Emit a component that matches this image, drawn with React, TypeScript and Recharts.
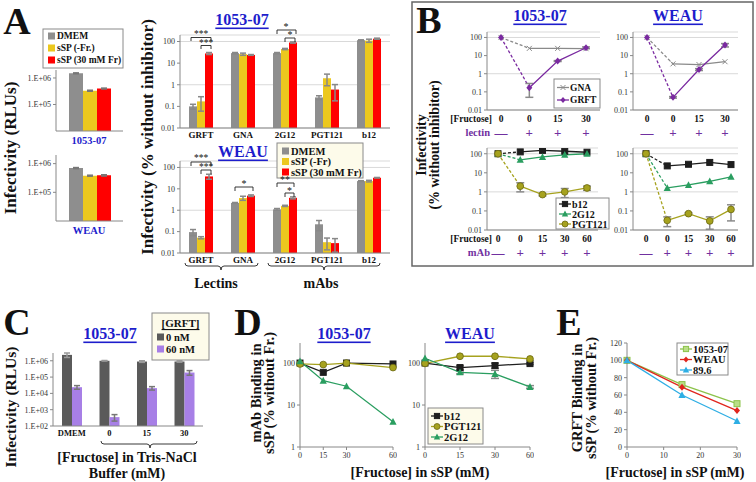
import React from 'react';
import { BarChart, Bar, LineChart, Line, XAxis, YAxis, CartesianGrid, ErrorBar } from 'recharts';

const FONT = "'Liberation Serif', 'Times New Roman', serif";
const BLUE = '#1d1dcc';
const PURPLE = '#7030a0';
const GRAY = '#8e8e8e';
const YELLOW = '#ecc81e';
const RED = '#ff0000';

// Panel A – raw infectivity (RLUs)
const rluSeries = ['DMEM', 'sSP (-Fr.)', 'sSP (30 mM Fr)'];
const rlu1053 = [1.5e6, 3.3e5, 4.0e5];
const rlu1053Err = [6e4, 1.5e4, 1.5e4];
const rluWeau = [7.0e5, 3.8e5, 3.9e5];
const rluWeauErr = [3e4, 1.5e4, 2e4];

// Panel A – % infectivity with inhibitors
const inhibitors = ['GRFT', 'GNA', '2G12', 'PGT121', 'b12'];
const pct1053Dmem = [0.1, 29, 29, 0.26, 115];
const pct1053DmemErr = [0.025, 2, 2, 0.05, 5];
const pct1053Ssp = [0.17, 26, 45, 2.0, 110];
const pct1053SspErr = [0.11, 3, 3, 1.1, 18];
const pct1053Fr = [28, 24, 90, 0.6, 135];
const pct1053FrErr = [3, 1, 6, 0.42, 8];
const pctWeauDmem = [0.095, 2.2, 1.1, 0.22, 23];
const pctWeauDmemErr = [0.03, 0.1, 0.1, 0.11, 1];
const pctWeauSsp = [0.052, 3.7, 1.6, 0.032, 23];
const pctWeauSspErr = [0.006, 0.8, 0.1, 0.018, 2];
const pctWeauFr = [38, 4.8, 3.8, 0.029, 33];
const pctWeauFrErr = [10, 0.4, 0.4, 0.018, 1];

// Panel B – fructose reversal
const lectinFructose = ['0', '0', '15', '30'];
const lectinSign = ['—', '+', '+', '+'];
const gna1053 = [100, 25, 25, 24];
const grft1053 = [100, 0.17, 5, 27];
const grft1053Err = [0, 0.12, 0.3, 3];
const gnaWeau = [100, 3.5, 3.2, 4.6];
const grftWeau = [100, 0.05, 1.7, 38];
const grftWeauErr = [0, 0.005, 0.2, 8];
const mabFructose = ['0', '0', '15', '30', '60'];
const mabSign = ['—', '+', '+', '+', '+'];
const b12Mab1053 = [100, 125, 150, 135, 120];
const g2Mab1053 = [100, 48, 68, 88, 100];
const pgtMab1053 = [100, 2.0, 0.72, 1.0, 1.6];
const pgtMab1053Err = [0, 1.0, 0.1, 0.5, 0.4];
const b12MabWeau = [100, 23, 28, 35, 27];
const g2MabWeau = [100, 1.6, 2.3, 3.6, 6.2];
const pgtMabWeau = [100, 0.032, 0.072, 0.03, 0.12];
const pgtMabWeauErr = [0, 0.017, 0.008, 0.019, 0.09];

// Panel C
const cGroups = ['DMEM', '0', '15', '30'];
const c0nM = [2.3e6, 1.0e6, 9.0e5, 9.0e5];
const c0nMErr = [7e5, 4e4, 1e5, 8e4];
const c60nM = [2.4e4, 350, 2.1e4, 1.9e5];
const c60nMErr = [6e3, 150, 5e3, 6e4];

// Panel D – mAb binding
const dFructose = [0, 15, 30, 60];
const dB12_1053 = [100, 60, 100, 95];
const dPgt_1053 = [95, 92, 100, 78];
const dG2_1053 = [110, 38, 28, 4];
const dB12_Weau = [100, 78, 87, 97];
const dB12_WeauErr = [0, 8, 12, 5];
const dPgt_Weau = [98, 145, 145, 125];
const dG2_Weau = [130, 60, 55, 27];
const dG2_WeauErr = [0, 5, 12, 2];

// Panel E – GRFT binding
const eFructose = [0, 15, 30];
const e1053 = [100, 72, 50];
const eWeau = [100, 69, 42];
const e896 = [100, 60, 30];

const C_B12 = '#1e1e1e';
const C_G2 = '#2a9e60';
const C_PGT = '#a6a21e';
const C_GNA = '#8a8a8a';
const C_GRFT = '#7a2aa0';
const C_C0 = '#5a5a5a';
const C_C60 = '#a77fe6';
const C_E1053 = '#8cc34a';
const C_EWEAU = '#e0251d';
const C_E896 = '#2eaee4';

type Rect = { l: number; t: number; r: number; b: number };

function frame(p: Rect, yW: number, xH: number, mt = 4, mr = 4) {
  return {
    style: { position: 'absolute', left: p.l - yW, top: p.t - mt } as React.CSSProperties,
    width: p.r - p.l + yW + mr,
    height: p.b - p.t + mt + xH,
    margin: { top: mt, right: mr, bottom: 0, left: 0 },
  };
}

const sci = (v: number) => `1.E+${String(Math.round(Math.log10(v))).padStart(2, '0')}`;
const tickFont = { fontSize: 8, fill: '#333', fontFamily: FONT };

function drawMarker(shape: string, cx: number, cy: number, color: string, key?: any, fill?: string, s = 3) {
  const f = fill || color;
  switch (shape) {
    case 'square':
      return <rect key={key} x={cx - s} y={cy - s} width={2 * s} height={2 * s} fill={f} stroke={color} strokeWidth={1} />;
    case 'triangle':
      return <polygon key={key} points={`${cx},${cy - s - 0.8} ${cx + s + 0.6},${cy + s} ${cx - s - 0.6},${cy + s}`} fill={f} />;
    case 'circle':
      return <circle key={key} cx={cx} cy={cy} r={s + 0.4} fill={f} stroke="#6b6812" strokeWidth={0.8} />;
    case 'diamond':
      return <polygon key={key} points={`${cx},${cy - s - 0.5} ${cx + s},${cy} ${cx},${cy + s + 0.5} ${cx - s},${cy}`} fill={f} />;
    case 'cross':
      return (
        <path key={key} d={`M${cx - 2.5},${cy - 2.5}L${cx + 2.5},${cy + 2.5}M${cx + 2.5},${cy - 2.5}L${cx - 2.5},${cy + 2.5}`} stroke={color} strokeWidth={1} />
      );
    default:
      return <circle key={key} cx={cx} cy={cy} r={s} fill={f} />;
  }
}

const dotFn = (shape: string, color: string, only?: number, fill?: string) => (p: any) => {
  const { cx, cy, index, value } = p;
  if (value == null || cx == null || cy == null || Number.isNaN(cy) || (only != null && index !== only)) {
    return <g key={`d${index}`} />;
  }
  return drawMarker(shape, cx, cy, color, `d${index}`, fill);
};

function RluChart({ plot, values, err }: { plot: Rect; values: number[]; err: number[] }) {
  const f = frame(plot, 40, 1);
  const data = [{ name: 'x', dmem: values[0], dmemErr: err[0], ssp: values[1], sspErr: err[1], fr: values[2], frErr: err[2] }];
  return (
    <div style={f.style}>
      <BarChart width={f.width} height={f.height} margin={f.margin} data={data} barSize={14} barGap={0}>
        <XAxis dataKey="name" tick={false} height={1} stroke="#888" tickLine={false} />
        <YAxis
          scale="log"
          domain={[1e4, 2e6]}
          ticks={[1e4, 1e5, 1e6]}
          allowDataOverflow
          width={40}
          stroke="#888"
          tickSize={3}
          tickMargin={2}
          tickFormatter={sci}
          tick={tickFont}
        />
        <Bar dataKey="dmem" fill={GRAY} isAnimationActive={false}>
          <ErrorBar dataKey="dmemErr" width={3} stroke="#777" />
        </Bar>
        <Bar dataKey="ssp" fill={YELLOW} isAnimationActive={false}>
          <ErrorBar dataKey="sspErr" width={3} stroke="#777" />
        </Bar>
        <Bar dataKey="fr" fill={RED} isAnimationActive={false}>
          <ErrorBar dataKey="frErr" width={3} stroke="#777" />
        </Bar>
      </BarChart>
    </div>
  );
}

function PctChart(props: {
  plot: Rect;
  dmem: number[];
  dmemErr: number[];
  ssp: number[];
  sspErr: number[];
  fr: number[];
  frErr: number[];
}) {
  const { plot } = props;
  const f = frame(plot, 28, 16);
  const data = inhibitors.map((name, i) => ({
    name,
    dmem: props.dmem[i],
    dmemErr: props.dmemErr[i],
    ssp: props.ssp[i],
    sspErr: props.sspErr[i],
    fr: props.fr[i],
    frErr: props.frErr[i],
  }));
  return (
    <div style={f.style}>
      <BarChart width={f.width} height={f.height} margin={f.margin} data={data} barSize={8} barGap={0}>
        <CartesianGrid vertical={false} stroke="#d9d9d9" />
        <XAxis
          dataKey="name"
          stroke="#888"
          tickLine={false}
          tickSize={0}
          tickMargin={4}
          interval={0}
          height={16}
          tick={{ fontSize: 9, fontWeight: 'bold', fill: '#111', fontFamily: FONT }}
        />
        <YAxis
          scale="log"
          domain={[0.01, 200]}
          ticks={[0.01, 0.1, 1, 10, 100]}
          allowDataOverflow
          width={28}
          stroke="#888"
          tickSize={3}
          tickMargin={2}
          tick={tickFont}
        />
        <Bar dataKey="dmem" fill={GRAY} isAnimationActive={false}>
          <ErrorBar dataKey="dmemErr" width={3} stroke="#888" />
        </Bar>
        <Bar dataKey="ssp" fill={YELLOW} isAnimationActive={false}>
          <ErrorBar dataKey="sspErr" width={3} stroke="#888" />
        </Bar>
        <Bar dataKey="fr" fill={RED} isAnimationActive={false}>
          <ErrorBar dataKey="frErr" width={3} stroke="#888" />
        </Bar>
      </BarChart>
    </div>
  );
}

type Series = { key: string; values: number[]; err?: number[]; color: string; shape: string; fill?: string };

function SignTick(p: any) {
  const { x, y, index, cats, signs } = p;
  return (
    <g>
      <text x={x} y={y + 8.5} textAnchor="middle" dominantBaseline="central" fontSize={9.5} fontWeight="bold" fill="#111" fontFamily={FONT}>
        {cats[index]}
      </text>
      <text x={x} y={y + 22} textAnchor="middle" dominantBaseline="central" fontSize={13} fontWeight="bold" fill={PURPLE} fontFamily={FONT}>
        {signs[index]}
      </text>
    </g>
  );
}

function DoseChart({ plot, cats, signs, series, padL, padR }: { plot: Rect; cats: string[]; signs: string[]; series: Series[]; padL: number; padR: number }) {
  const f = frame(plot, 26, 30);
  const data = cats.map((c, i) => {
    const row: any = { i };
    series.forEach((s) => {
      row[s.key + 'Lead'] = i <= 1 ? s.values[i] : null;
      row[s.key] = i >= 1 ? s.values[i] : null;
      row[s.key + 'Err'] = s.err ? s.err[i] : 0;
    });
    return row;
  });
  return (
    <div style={f.style}>
      <LineChart width={f.width} height={f.height} margin={f.margin} data={data}>
        <CartesianGrid vertical={false} stroke="#d9d9d9" />
        <XAxis
          dataKey="i"
          type="category"
          padding={{ left: padL, right: padR }}
          stroke="#888"
          tickLine={false}
          tickSize={0}
          tickMargin={0}
          interval={0}
          height={30}
          tick={(p: any) => <SignTick {...p} cats={cats} signs={signs} />}
        />
        <YAxis
          scale="log"
          domain={[0.01, 200]}
          ticks={[0.01, 0.1, 1, 10, 100]}
          allowDataOverflow
          width={26}
          stroke="#888"
          tickSize={3}
          tickMargin={2}
          tick={tickFont}
        />
        {series.map((s) => (
          <Line
            key={s.key + 'Lead'}
            dataKey={s.key + 'Lead'}
            stroke={s.color}
            strokeWidth={1.3}
            strokeDasharray="3 2"
            dot={dotFn(s.shape, s.color, 0, s.fill)}
            isAnimationActive={false}
          />
        ))}
        {series.map((s) => (
          <Line key={s.key} dataKey={s.key} stroke={s.color} strokeWidth={1.3} dot={dotFn(s.shape, s.color, undefined, s.fill)} isAnimationActive={false}>
            {s.err ? <ErrorBar dataKey={s.key + 'Err'} width={4} stroke="#8a8a8a" /> : null}
          </Line>
        ))}
      </LineChart>
    </div>
  );
}

function PlainLineChart({
  plot,
  xs,
  series,
  xAxis,
  yAxis,
}: {
  plot: Rect;
  xs: number[];
  series: Series[];
  xAxis: any;
  yAxis: any;
}) {
  const f = frame(plot, 22, 14);
  const data = xs.map((x, i) => {
    const row: any = { x };
    series.forEach((s) => {
      row[s.key] = s.values[i];
      row[s.key + 'Err'] = s.err ? s.err[i] : 0;
    });
    return row;
  });
  return (
    <div style={f.style}>
      <LineChart width={f.width} height={f.height} margin={f.margin} data={data}>
        <XAxis dataKey="x" stroke="#888" tickSize={3} tickMargin={2} height={14} interval={0} tick={tickFont} {...xAxis} />
        <YAxis width={22} stroke="#888" tickSize={3} tickMargin={2} tick={tickFont} {...yAxis} />
        {series.map((s) => (
          <Line key={s.key} dataKey={s.key} stroke={s.color} strokeWidth={1.3} dot={dotFn(s.shape, s.color, undefined, s.fill)} isAnimationActive={false}>
            {s.err ? <ErrorBar dataKey={s.key + 'Err'} width={4} stroke="#8a8a8a" /> : null}
          </Line>
        ))}
      </LineChart>
    </div>
  );
}

function CChart({ plot }: { plot: Rect }) {
  const f = frame(plot, 40, 14);
  const data = cGroups.map((name, i) => ({ name, a: c0nM[i], aErr: c0nMErr[i], b: c60nM[i], bErr: c60nMErr[i] }));
  return (
    <div style={f.style}>
      <BarChart width={f.width} height={f.height} margin={f.margin} data={data} barSize={10} barGap={0}>
        <XAxis
          dataKey="name"
          stroke="#888"
          tickLine={false}
          tickSize={0}
          tickMargin={4}
          interval={0}
          height={14}
          tick={{ fontSize: 8.5, fontWeight: 'bold', fill: '#111', fontFamily: FONT }}
        />
        <YAxis
          scale="log"
          domain={[100, 3e6]}
          ticks={[1e2, 1e3, 1e4, 1e5, 1e6]}
          allowDataOverflow
          width={40}
          stroke="#888"
          tickSize={3}
          tickMargin={2}
          tickFormatter={sci}
          tick={tickFont}
        />
        <Bar dataKey="a" fill={C_C0} isAnimationActive={false}>
          <ErrorBar dataKey="aErr" width={3} stroke="#999" />
        </Bar>
        <Bar dataKey="b" fill={C_C60} isAnimationActive={false}>
          <ErrorBar dataKey="bErr" width={3} stroke="#777" />
        </Bar>
      </BarChart>
    </div>
  );
}

function Txt(p: {
  x: number;
  y: number;
  size?: number;
  bold?: boolean;
  fill?: string;
  anchor?: 'start' | 'middle' | 'end';
  rotate?: boolean;
  underline?: boolean;
  children: React.ReactNode;
}) {
  const { x, y, size = 10, bold = true, fill = '#111', anchor = 'middle', rotate = false, underline = false } = p;
  return (
    <text
      x={rotate ? 0 : x}
      y={rotate ? 0 : y}
      transform={rotate ? `translate(${x},${y}) rotate(-90)` : undefined}
      fontSize={size}
      fontWeight={bold ? 'bold' : 'normal'}
      fill={fill}
      textAnchor={anchor}
      dominantBaseline="central"
      fontFamily={FONT}
      textDecoration={underline ? 'underline' : undefined}
    >
      {p.children}
    </text>
  );
}

function BarLegend({ x, y, w, h, rows, names, colors, bg, size = 10 }: any) {
  return (
    <g>
      <rect x={x} y={y} width={w} height={h} fill={bg} stroke="#8a8a8a" />
      {names.map((n: string, i: number) => (
        <g key={n}>
          <rect x={x + 5} y={rows[i] - 3.5} width={7} height={7} fill={colors[i]} />
          <Txt x={x + 14} y={rows[i]} size={size} anchor="start">
            {n}
          </Txt>
        </g>
      ))}
    </g>
  );
}

function LineLegend({ x, y, w, h, rows, items, bg, size = 10 }: any) {
  return (
    <g>
      <rect x={x} y={y} width={w} height={h} fill={bg} stroke="#8a8a8a" />
      {items.map((it: any, i: number) => (
        <g key={it.name}>
          <line x1={x + 3} x2={x + 15} y1={rows[i]} y2={rows[i]} stroke={it.color} strokeWidth={1.3} />
          {drawMarker(it.shape, x + 9, rows[i], it.color, undefined, it.fill, 2.6)}
          <Txt x={x + 16} y={rows[i]} size={size} anchor="start">
            {it.name}
          </Txt>
        </g>
      ))}
    </g>
  );
}

function Overlay() {
  const br = { fill: 'none', stroke: '#222', strokeWidth: 0.9 };
  return (
    <svg width={756} height={482} style={{ position: 'absolute', left: 0, top: 0, pointerEvents: 'none' }}>
      {/* panel letters */}
      <Txt x={17} y={21} size={38}>A</Txt>
      <Txt x={429} y={20} size={38}>B</Txt>
      <Txt x={17} y={322} size={38}>C</Txt>
      <Txt x={248} y={322} size={38}>D</Txt>
      <Txt x={569} y={322} size={38}>E</Txt>

      {/* Panel A */}
      <BarLegend x={43} y={29} w={80} h={39} rows={[36, 48, 60]} names={rluSeries} colors={[GRAY, YELLOW, RED]} bg="#fff" size={9.5} />
      <Txt x={89} y={140} size={10.5} fill={BLUE}>1053-07</Txt>
      <Txt x={89} y={230} size={10.5} fill={BLUE}>WEAU</Txt>
      <Txt x={10} y={148} size={17} rotate>Infectivity (RLUs)</Txt>
      <Txt x={147} y={137} size={17} rotate>Infectivity (% without inhibitor)</Txt>
      <Txt x={242} y={19} size={16} fill={BLUE} underline>1053-07</Txt>
      <Txt x={243} y={151} size={16} fill={BLUE} underline>WEAU</Txt>
      <BarLegend
        x={277}
        y={143}
        w={86}
        h={35}
        rows={[151, 161.5, 172]}
        names={['DMEM', 'sSP (-Fr)', 'sSP (30 mM Fr)']}
        colors={[GRAY, YELLOW, RED]}
        bg="#fdfbea"
        size={10.5}
      />
      {/* significance brackets 1053-07 */}
      <path d="M191,41 V37.5 H211 V41" {...br} />
      <Txt x={201} y={33.5} size={9.5} bold={false}>***</Txt>
      <path d="M201,49 V45.5 H211 V49" {...br} />
      <Txt x={206} y={42.5} size={9.5} bold={false}>***</Txt>
      <path d="M277,34 V30 H296 V34" {...br} />
      <Txt x={286} y={26} size={10} bold={false}>*</Txt>
      <path d="M285,42 V38 H295 V42" {...br} />
      <Txt x={290} y={34.5} size={10} bold={false}>*</Txt>
      {/* significance brackets WEAU */}
      <path d="M191,166 V162 H211 V166" {...br} />
      <Txt x={201} y={158} size={9.5} bold={false}>***</Txt>
      <path d="M201,174 V170 H211 V174" {...br} />
      <Txt x={206} y={167} size={9.5} bold={false}>***</Txt>
      <path d="M235,191 V187 H253 V191" {...br} />
      <Txt x={244} y={183} size={10} bold={false}>*</Txt>
      <path d="M277,187 V183 H294 V187" {...br} />
      <Txt x={285} y={179} size={10} bold={false}>**</Txt>
      <path d="M285,197 V193 H294 V197" {...br} />
      <Txt x={289.5} y={190} size={10} bold={false}>*</Txt>
      {/* category groups */}
      <path d="M185,263 Q185,266 188,266 H218 Q221,266 221,270 Q221,266 224,266 H255 Q258,266 258,263" {...br} />
      <path d="M268,263 Q268,266 271,266 H321 Q324,266 324,270 Q324,266 327,266 H377 Q380,266 380,263" {...br} />
      <Txt x={216} y={283} size={14}>Lectins</Txt>
      <Txt x={321} y={283} size={14}>mAbs</Txt>

      {/* Panel B */}
      <rect x={412} y={2} width={341} height={264} fill="none" stroke="#666" strokeWidth={1.5} />
      <Txt x={540} y={15} size={16} fill={BLUE} underline>1053-07</Txt>
      <Txt x={678} y={15} size={16} fill={BLUE} underline>WEAU</Txt>
      <Txt x={421} y={145} size={14} rotate>Infectivity</Txt>
      <Txt x={434} y={145} size={14} rotate>(% without inhibitor)</Txt>
      <Txt x={492} y={118.5} size={9.5} anchor="end">[Fructose]</Txt>
      <Txt x={490} y={132} size={10.5} anchor="end" fill={PURPLE}>lectin</Txt>
      <Txt x={492} y={238.5} size={9.5} anchor="end">[Fructose]</Txt>
      <Txt x={490} y={252} size={10.5} anchor="end" fill={PURPLE}>mAb</Txt>
      <LineLegend
        x={554}
        y={79}
        w={46}
        h={29}
        rows={[87.5, 100]}
        items={[
          { name: 'GNA', color: C_GNA, shape: 'cross' },
          { name: 'GRFT', color: C_GRFT, shape: 'diamond' },
        ]}
        bg="#fff"
        size={9.5}
      />
      <LineLegend
        x={556}
        y={198}
        w={53}
        h={31}
        rows={[204, 214, 224]}
        items={[
          { name: 'b12', color: C_B12, shape: 'square' },
          { name: '2G12', color: C_G2, shape: 'triangle' },
          { name: 'PGT121', color: C_PGT, shape: 'circle' },
        ]}
        bg="#fff"
        size={10}
      />

      {/* Panel C */}
      <Txt x={110} y={333} size={16} fill={BLUE} underline>1053-07</Txt>
      <Txt x={10} y={407} size={15.5} rotate>Infectivity (RLUs)</Txt>
      <rect x={152} y={313} width={57} height={47} fill="#fdfbea" stroke="#8a8a8a" />
      <Txt x={180.5} y={323} size={11} underline>[GRFT]</Txt>
      <rect x={157} y={333.5} width={7} height={7} fill={C_C0} />
      <Txt x={166} y={337} size={10.5} anchor="start">0 nM</Txt>
      <rect x={157} y={345.5} width={7} height={7} fill={C_C60} />
      <Txt x={166} y={349} size={10.5} anchor="start">60 nM</Txt>
      <path d="M101,441 Q101,444 104,444 H147 Q150,444 150,448 Q150,444 153,444 H194 Q197,444 197,441" {...br} />
      <Txt x={127} y={457} size={14}>[Fructose] in Tris-NaCl</Txt>
      <Txt x={127} y={473} size={14}>Buffer (mM)</Txt>

      {/* Panel D */}
      <Txt x={344} y={333} size={16} fill={BLUE} underline>1053-07</Txt>
      <Txt x={470} y={333} size={16} fill={BLUE} underline>WEAU</Txt>
      <Txt x={256} y={393} size={14.5} rotate>mAb Binding in</Txt>
      <Txt x={269} y={393} size={14.5} rotate>sSP (% without Fr.)</Txt>
      <Txt x={420} y={472} size={14}>[Fructose] in sSP (mM)</Txt>
      <LineLegend
        x={428}
        y={408}
        w={55}
        h={36}
        rows={[416, 426.5, 437]}
        items={[
          { name: 'b12', color: C_B12, shape: 'square' },
          { name: 'PGT121', color: C_PGT, shape: 'circle' },
          { name: '2G12', color: C_G2, shape: 'triangle' },
        ]}
        bg="#fdfbea"
        size={10.5}
      />

      {/* Panel E */}
      <Txt x={577} y={398} size={14.5} rotate>GRFT Binding in</Txt>
      <Txt x={591} y={398} size={14.5} rotate>sSP (% without Fr.)</Txt>
      <Txt x={675} y={472} size={14}>[Fructose] in sSP (mM)</Txt>
      <LineLegend
        x={677}
        y={343}
        w={51}
        h={32}
        rows={[349, 359.5, 370]}
        items={[
          { name: '1053-07', color: C_E1053, shape: 'square', fill: '#b9de86' },
          { name: 'WEAU', color: C_EWEAU, shape: 'diamond' },
          { name: '89.6', color: C_E896, shape: 'triangle' },
        ]}
        bg="#fff"
        size={10.5}
      />
    </svg>
  );
}

export default function App() {
  const logD = { scale: 'log', domain: [1, 300], ticks: [1, 10, 100], allowDataOverflow: true };
  return (
    <div style={{ position: 'absolute', left: 0, top: 0, width: 756, height: 482, background: '#fff', overflow: 'hidden', fontFamily: FONT }}>
      <RluChart plot={{ l: 56, t: 70, r: 123, b: 131 }} values={rlu1053} err={rlu1053Err} />
      <RluChart plot={{ l: 56, t: 155, r: 123, b: 221 }} values={rluWeau} err={rluWeauErr} />
      <PctChart
        plot={{ l: 180, t: 35, r: 390, b: 128 }}
        dmem={pct1053Dmem}
        dmemErr={pct1053DmemErr}
        ssp={pct1053Ssp}
        sspErr={pct1053SspErr}
        fr={pct1053Fr}
        frErr={pct1053FrErr}
      />
      <PctChart
        plot={{ l: 180, t: 161, r: 390, b: 253 }}
        dmem={pctWeauDmem}
        dmemErr={pctWeauDmemErr}
        ssp={pctWeauSsp}
        sspErr={pctWeauSspErr}
        fr={pctWeauFr}
        frErr={pctWeauFrErr}
      />

      <DoseChart
        plot={{ l: 487, t: 32, r: 600, b: 110 }}
        cats={lectinFructose}
        signs={lectinSign}
        padL={14}
        padR={14}
        series={[
          { key: 'gna', values: gna1053, color: C_GNA, shape: 'cross' },
          { key: 'grft', values: grft1053, err: grft1053Err, color: C_GRFT, shape: 'diamond' },
        ]}
      />
      <DoseChart
        plot={{ l: 633, t: 32, r: 738, b: 110 }}
        cats={lectinFructose}
        signs={lectinSign}
        padL={14}
        padR={13}
        series={[
          { key: 'gna', values: gnaWeau, color: C_GNA, shape: 'cross' },
          { key: 'grft', values: grftWeau, err: grftWeauErr, color: C_GRFT, shape: 'diamond' },
        ]}
      />
      <DoseChart
        plot={{ l: 487, t: 148, r: 598, b: 230 }}
        cats={mabFructose}
        signs={mabSign}
        padL={11}
        padR={11}
        series={[
          { key: 'b12', values: b12Mab1053, color: C_B12, shape: 'square' },
          { key: 'g2', values: g2Mab1053, color: C_G2, shape: 'triangle' },
          { key: 'pgt', values: pgtMab1053, err: pgtMab1053Err, color: C_PGT, shape: 'circle' },
        ]}
      />
      <DoseChart
        plot={{ l: 633, t: 148, r: 738, b: 230 }}
        cats={mabFructose}
        signs={mabSign}
        padL={13}
        padR={7}
        series={[
          { key: 'b12', values: b12MabWeau, color: C_B12, shape: 'square' },
          { key: 'g2', values: g2MabWeau, color: C_G2, shape: 'triangle' },
          { key: 'pgt', values: pgtMabWeau, err: pgtMabWeauErr, color: C_PGT, shape: 'circle' },
        ]}
      />

      <CChart plot={{ l: 53, t: 353, r: 203, b: 426 }} />

      <PlainLineChart
        plot={{ l: 300, t: 343, r: 393, b: 447 }}
        xs={dFructose}
        xAxis={{ type: 'number', domain: [0, 60], ticks: [0, 15, 30, 60] }}
        yAxis={logD}
        series={[
          { key: 'b12', values: dB12_1053, color: C_B12, shape: 'square' },
          { key: 'pgt', values: dPgt_1053, color: C_PGT, shape: 'circle' },
          { key: 'g2', values: dG2_1053, color: C_G2, shape: 'triangle' },
        ]}
      />
      <PlainLineChart
        plot={{ l: 425, t: 343, r: 530, b: 447 }}
        xs={dFructose}
        xAxis={{ type: 'category' }}
        yAxis={logD}
        series={[
          { key: 'b12', values: dB12_Weau, err: dB12_WeauErr, color: C_B12, shape: 'square' },
          { key: 'pgt', values: dPgt_Weau, color: C_PGT, shape: 'circle' },
          { key: 'g2', values: dG2_Weau, err: dG2_WeauErr, color: C_G2, shape: 'triangle' },
        ]}
      />
      <PlainLineChart
        plot={{ l: 627, t: 343, r: 737, b: 447 }}
        xs={eFructose}
        xAxis={{ type: 'number', domain: [0, 30], ticks: [0, 10, 20, 30] }}
        yAxis={{ type: 'number', domain: [0, 120], ticks: [0, 20, 40, 60, 80, 100, 120] }}
        series={[
          { key: 'a', values: e1053, color: C_E1053, shape: 'square', fill: '#b9de86' },
          { key: 'w', values: eWeau, color: C_EWEAU, shape: 'diamond' },
          { key: 'v', values: e896, color: C_E896, shape: 'triangle' },
        ]}
      />

      <Overlay />
    </div>
  );
}
